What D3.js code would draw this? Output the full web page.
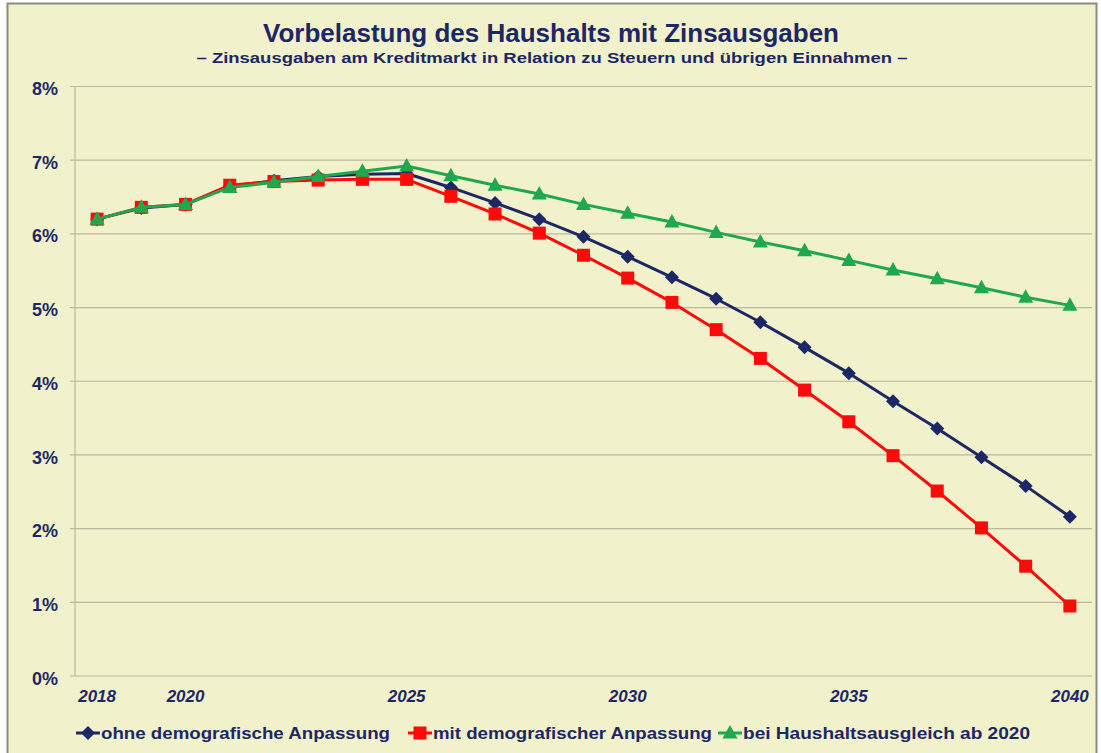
<!DOCTYPE html>
<html><head><meta charset="utf-8">
<script src="https://cdn.jsdelivr.net/npm/d3@7"></script>
<style>body{margin:0;background:#fff}svg{display:block}text{font-family:"Liberation Sans",Arial,sans-serif;font-weight:bold}</style>
</head><body><svg id="c" width="1101" height="753"></svg>
<script>
const years = d3.range(2018, 2041).map(String);
const xTickLabels = ["2018","2020","2025","2030","2035","2040"];
const yTicks = [0,1,2,3,4,5,6,7,8];
const seriesNames = ["ohne demografische Anpassung","mit demografischer Anpassung","bei Haushaltsausgleich ab 2020"];
const ohne = [6.20,6.35,6.40,6.65,6.72,6.78,6.81,6.82,6.63,6.42,6.20,5.96,5.69,5.41,5.12,4.80,4.46,4.11,3.73,3.36,2.97,2.58,2.16];
const mit  = [6.20,6.36,6.40,6.66,6.71,6.73,6.74,6.74,6.51,6.27,6.01,5.71,5.40,5.07,4.70,4.31,3.88,3.45,2.99,2.51,2.01,1.49,0.95];
const bei  = [6.20,6.36,6.40,6.63,6.70,6.78,6.85,6.92,6.79,6.66,6.54,6.40,6.28,6.16,6.02,5.89,5.77,5.64,5.51,5.39,5.27,5.14,5.03];
const title = "Vorbelastung des Haushalts mit Zinsausgaben";
const subtitle = "\u2013  Zinsausgaben am Kreditmarkt in Relation zu Steuern und übrigen Einnahmen \u2013";

const navy = "#1c2766", red = "#ff0a0a", green = "#1fa84c";
const svg = d3.select("#c");
svg.append("rect").attr("x",0).attr("y",0).attr("width",1101).attr("height",753).attr("fill","#fff");
svg.append("rect").attr("x",7.5).attr("y",3.5).attr("width",1089).attr("height",752).attr("fill","#f1f1cb").attr("stroke","#8c8c80").attr("stroke-width",2);

const L = 75, R = 1092, T = 86.5, B = 676;
const x = d3.scaleBand().domain(years).range([L, R]);
const y = d3.scaleLinear().domain([0,8]).range([B, T]);
const cx = d => x(d) + x.bandwidth()/2;

// gridlines
svg.append("g").selectAll("line").data(yTicks).join("line")
  .attr("x1", L-5).attr("x2", R).attr("y1", d=>y(d)).attr("y2", d=>y(d))
  .attr("stroke", "#b9b9a0").attr("stroke-width", 1.2);
svg.append("line").attr("x1",L).attr("x2",L).attr("y1",T).attr("y2",B).attr("stroke","#b9b9a0").attr("stroke-width",1.2);

// y labels
const yAxis = d3.axisLeft(y).tickValues(yTicks).tickFormat(d=>d+"%").tickSize(0).tickPadding(0);
const gy = svg.append("g").attr("transform",`translate(58,0)`).call(yAxis);
gy.select(".domain").remove();
gy.selectAll("text").attr("font-size",18).attr("fill",navy).attr("font-family","Liberation Sans, Arial").attr("font-weight","bold").attr("dy","0.45em");

// x labels
const xAxis = d3.axisBottom(x).tickValues(xTickLabels).tickSize(0).tickPadding(0);
const gx = svg.append("g").attr("transform",`translate(0,${B+13})`).call(xAxis);
gx.select(".domain").remove();
gx.selectAll("text").attr("font-size",17).attr("fill",navy).attr("font-style","italic").attr("font-family","Liberation Sans, Arial").attr("font-weight","bold").attr("dy","0.75em");

const line = d3.line().x((d,i)=>cx(years[i])).y(d=>y(d));
const series = [
  {vals: ohne, color: navy, shape: "diamond"},
  {vals: mit, color: red, shape: "square"},
  {vals: bei, color: green, shape: "triangle"}
];
function marker(g, shape, color, px, py) {
  if (shape === "diamond") g.append("path").attr("d",`M${px},${py-7}L${px+7},${py}L${px},${py+7}L${px-7},${py}Z`).attr("fill",color);
  else if (shape === "square") g.append("rect").attr("x",px-6.5).attr("y",py-6.5).attr("width",13).attr("height",13).attr("fill",color);
  else g.append("path").attr("d",`M${px},${py-8}L${px+7.5},${py+5.5}L${px-7.5},${py+5.5}Z`).attr("fill",color);
}
series.forEach(s => {
  const g = svg.append("g");
  g.append("path").attr("d", line(s.vals)).attr("fill","none").attr("stroke",s.color).attr("stroke-width",3).attr("stroke-linejoin","round");
  s.vals.forEach((v,i)=>marker(g, s.shape, s.color, cx(years[i]), y(v)));
});

// title
svg.append("text").attr("x",551).attr("y",42).attr("text-anchor","middle").attr("font-size",26).attr("fill",navy)
  .attr("textLength",576).attr("lengthAdjust","spacingAndGlyphs").text(title);
svg.append("text").attr("x",552).attr("y",63).attr("text-anchor","middle").attr("font-size",15.5).attr("fill",navy)
  .attr("textLength",711).attr("lengthAdjust","spacingAndGlyphs").text(subtitle);

// legend
const legX = [76, 408, 718];
const legTextLen = [289, 279, 287];
series.forEach((s,i)=>{
  const g = svg.append("g");
  const x0 = legX[i], ly = 733;
  g.append("line").attr("x1",x0).attr("x2",x0+24).attr("y1",ly).attr("y2",ly).attr("stroke",s.color).attr("stroke-width",3);
  marker(g, s.shape, s.color, x0+12, ly);
  g.append("text").attr("x",x0+25).attr("y",ly+6).attr("font-size",17).attr("fill",navy)
   .attr("textLength",legTextLen[i]).attr("lengthAdjust","spacingAndGlyphs").text(seriesNames[i]);
});
</script></body></html>
